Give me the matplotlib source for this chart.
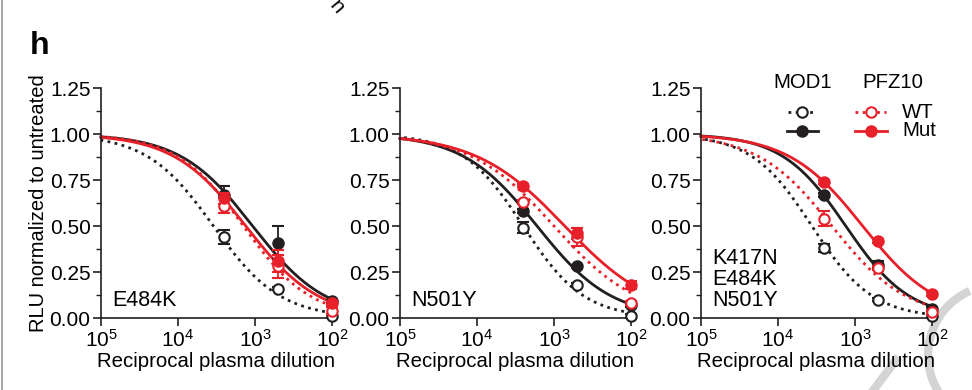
import numpy as np
import matplotlib
matplotlib.use("Agg")
import matplotlib.pyplot as plt
from matplotlib.lines import Line2D
from matplotlib.patches import Arc
from matplotlib.ticker import LogLocator, FixedLocator, MultipleLocator

plt.rcParams['font.family'] = ['Liberation Sans', 'DejaVu Sans']
plt.rcParams['mathtext.fontset'] = 'custom'
plt.rcParams['mathtext.rm'] = 'Liberation Sans'
plt.rcParams['mathtext.default'] = 'regular'

# reciprocal plasma dilutions
dilutions = [2500, 500, 100]
panel_names = ['E484K', 'N501Y', 'K417N\nE484K\nN501Y']

# RLU values per panel: MOD1 WT, MOD1 Mut, PFZ10 WT, PFZ10 Mut
mod1_wt = [[0.44, 0.16, 0.01], [0.49, 0.18, 0.01], [0.38, 0.10, 0.01]]
mod1_mut = [[0.67, 0.41, 0.09], [0.58, 0.28, 0.07], [0.67, 0.29, 0.05]]
pfz_wt = [[0.61, 0.28, 0.04], [0.63, 0.44, 0.08], [0.54, 0.27, 0.03]]
pfz_mut = [[0.65, 0.31, 0.08], [0.72, 0.46, 0.18], [0.74, 0.42, 0.13]]

mod1_wt_err = [[0.04, 0.01, 0.01], [0.03, 0.01, 0.01], [0.02, 0.01, 0.01]]
mod1_mut_err = [[0.05, 0.09, 0.01], [0.01, 0.01, 0.01], [0.01, 0.02, 0.01]]
pfz_wt_err = [[0.04, 0.06, 0.02], [0.01, 0.05, 0.01], [0.04, 0.01, 0.01]]
pfz_mut_err = [[0.03, 0.06, 0.01], [0.01, 0.03, 0.02], [0.01, 0.01, 0.01]]

# fitted curves: log10 ID50 and Hill slope (order as above)
fit_logid50 = [[3.54, 3.03, 3.15, 3.12],
               [3.40, 3.22, 3.00, 2.86],
               [3.56, 3.12, 3.30, 2.90]]
fit_hill = [[1.0, 0.92, 1.0, 0.92],
            [1.1, 0.90, 0.80, 0.75],
            [1.1, 1.05, 0.90, 0.90]]

BLACK = '#231f20'
RED = '#e8202a'
DOT = (0, (1, 1.6))


def curve(logx, L, h):
    return 1.0 / (1.0 + 10 ** (h * (L - logx)))


fig = plt.figure(figsize=(9.72, 3.9), dpi=100)
lefts = [101 / 972, 400 / 972, 701 / 972]
axes = [fig.add_axes([l, 72 / 390, 231 / 972, 230 / 390]) for l in lefts]

logx = np.linspace(2, 5, 300)
styles = [(BLACK, DOT, 'white'), (BLACK, '-', BLACK), (RED, DOT, 'white'), (RED, '-', RED)]

for i, ax in enumerate(axes):
    series = [mod1_wt[i], mod1_mut[i], pfz_wt[i], pfz_mut[i]]
    errs = [mod1_wt_err[i], mod1_mut_err[i], pfz_wt_err[i], pfz_mut_err[i]]
    for k, (color, ls, face) in enumerate(styles):
        ax.plot(10 ** logx, curve(logx, fit_logid50[i][k], fit_hill[i][k]),
                color=color, ls=ls, lw=2, clip_on=False, zorder=2 + k * 0.1)
        ax.errorbar(dilutions, series[k], yerr=errs[k], fmt='o', color=color,
                    mfc=face, mec=color, mew=1.5, ms=7.5, ecolor=color,
                    elinewidth=1.3, capsize=4, capthick=1.3, clip_on=False,
                    zorder=3 + k * 0.1)

    ax.set_xscale('log')
    ax.set_xlim(1e5, 1e2)
    ax.set_ylim(0, 1.25)
    ax.xaxis.set_major_locator(FixedLocator([1e5, 1e4, 1e3, 1e2]))
    ax.xaxis.set_minor_locator(LogLocator(base=10, subs=np.arange(2, 10)))
    ax.xaxis.set_minor_formatter(plt.NullFormatter())
    ax.set_xticklabels(['$10^5$', '$10^4$', '$10^3$', '$10^2$'])
    ax.yaxis.set_major_locator(MultipleLocator(0.25))
    ax.yaxis.set_minor_locator(MultipleLocator(0.125))
    ax.yaxis.set_major_formatter(plt.FormatStrFormatter('%.2f'))
    for s in ['top', 'right']:
        ax.spines[s].set_visible(False)
    for s in ['left', 'bottom']:
        ax.spines[s].set_linewidth(1.2)
        ax.spines[s].set_color(BLACK)
    ax.tick_params(which='major', length=6, width=1.2, labelsize=15, color=BLACK, pad=1.5)
    ax.tick_params(which='minor', length=3.5, width=1.0, color=BLACK)
    ax.set_xlabel('Reciprocal plasma dilution', fontsize=14.7, labelpad=1)
    ax.text(0.05, 0.03, panel_names[i], transform=ax.transAxes, fontsize=15.5,
            ha='left', va='bottom', linespacing=1.0)

axes[0].set_ylabel('RLU normalized to untreated', fontsize=14.5, labelpad=1)

fig.text(30 / 972, 1 - 54 / 390, 'h', fontsize=23, fontweight='bold', ha='left', va='baseline')

# legend
def fx(px):
    return px / 972


def fy(py):
    return 1 - py / 390


fig.text(fx(803), fy(83), 'MOD1', fontsize=14.7, ha='center', va='center')
fig.text(fx(893), fy(83), 'PFZ10', fontsize=14.7, ha='center', va='center')
leg = [(788, 816, 802, 112, BLACK, DOT, 'white'),
       (787, 818, 802, 131, BLACK, '-', BLACK),
       (855, 886, 871, 112, RED, DOT, 'white'),
       (855, 887, 871, 131, RED, '-', RED)]
for x0, x1, xm, yy, color, ls, face in leg:
    fig.add_artist(Line2D([fx(x0), fx(x1)], [fy(yy), fy(yy)], color=color, ls=ls, lw=2,
                          transform=fig.transFigure))
    fig.add_artist(Line2D([fx(xm)], [fy(yy)], marker='o', ms=7.5, mfc=face, mec=color,
                          mew=1.5, transform=fig.transFigure))
fig.text(fx(902), fy(112), 'WT', fontsize=14.7, ha='left', va='center')
fig.text(fx(902), fy(131), 'Mut', fontsize=14.7, ha='left', va='center')

# left page edge, cut-off text and watermark
fig.add_artist(Line2D([0.002, 0.002], [0, 1], color='#999999', lw=1.2, transform=fig.transFigure))
fig.text(fx(337), fy(7), 'n', fontsize=15, rotation=-50, ha='center', va='center')
fig.add_artist(Arc((fx(998), fy(355)), 140 / 972, 140 / 390, theta1=100, theta2=265,
                   color='#d4d4d4', lw=6, transform=fig.transFigure, zorder=0))
fig.add_artist(Line2D([fx(872), fx(896)], [fy(392), fy(360)], color='#d4d4d4', lw=6,
                      transform=fig.transFigure, zorder=0))

fig.savefig('out.png', dpi=100)
